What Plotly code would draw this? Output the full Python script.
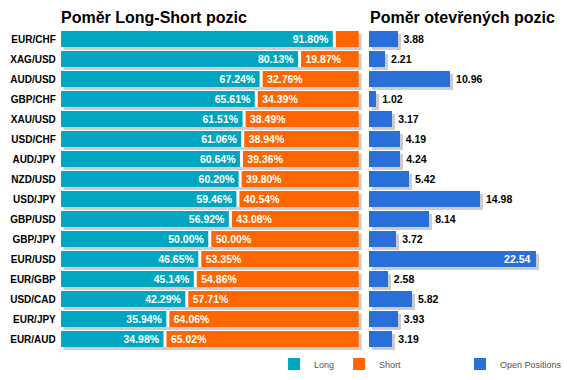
import plotly.graph_objects as go

pairs = ["EUR/CHF", "XAG/USD", "AUD/USD", "GBP/CHF", "XAU/USD", "USD/CHF", "AUD/JPY", "NZD/USD",
         "USD/JPY", "GBP/USD", "GBP/JPY", "EUR/USD", "EUR/GBP", "USD/CAD", "EUR/JPY", "EUR/AUD"]
long_pct = [91.80, 80.13, 67.24, 65.61, 61.51, 61.06, 60.64, 60.20,
            59.46, 56.92, 50.00, 46.65, 45.14, 42.29, 35.94, 34.98]
short_pct = [8.20, 19.87, 32.76, 34.39, 38.49, 38.94, 39.36, 39.80,
             40.54, 43.08, 50.00, 53.35, 54.86, 57.71, 64.06, 65.02]
open_pos = [3.88, 2.21, 10.96, 1.02, 3.17, 4.19, 4.24, 5.42,
            14.98, 8.14, 3.72, 22.54, 2.58, 5.82, 3.93, 3.19]

TEAL = "#00A6BF"
ORANGE = "#FF6600"
BLUE = "#2870D8"
SHADOW = "#CCCCCC"
FONT = "Liberation Sans, Arial, sans-serif"
NB = "\u00a0"

W, H = 567, 380


def px_x(a, b):
    return [a / W, b / W]


def px_y(top, bottom):
    return [1 - bottom / H, 1 - top / H]


long_text = [f"{v:.2f}%{NB}" for v in long_pct]
short_text = [f"{NB}{v:.2f}%" if v >= 10 else "" for v in short_pct]
max_open = max(open_pos)
open_pos_txt = ["inside" if v > 0.85 * max_open else "outside" for v in open_pos]
open_text = [f"{v:.2f}{NB}" if p == "inside" else f"{NB}{v:.2f}" for v, p in zip(open_pos, open_pos_txt)]
open_font_col = ["white" if p == "inside" else "black" for p in open_pos_txt]

bar_font = dict(size=10.5, family=FONT, weight="bold")

fig = go.Figure()

# shadows (drawn first, on lower subplots)
fig.add_trace(go.Bar(y=pairs, x=long_pct, orientation="h", marker=dict(color=SHADOW, line=dict(width=0)),
                     xaxis="x", yaxis="y", showlegend=False, hoverinfo="skip"))
fig.add_trace(go.Bar(y=pairs, x=short_pct, orientation="h", marker=dict(color=SHADOW, line=dict(width=0)),
                     xaxis="x", yaxis="y", showlegend=False, hoverinfo="skip"))
fig.add_trace(go.Bar(y=pairs, x=open_pos, orientation="h", marker=dict(color=SHADOW, line=dict(width=0)),
                     xaxis="x2", yaxis="y2", showlegend=False, hoverinfo="skip"))

# main bars
fig.add_trace(go.Bar(y=pairs, x=long_pct, orientation="h", name="Long",
                     marker=dict(color=TEAL, line=dict(width=0)),
                     text=long_text, textposition="inside", insidetextanchor="end", constraintext="none",
                     textfont=dict(color="white", **bar_font),
                     xaxis="x3", yaxis="y3", legend="legend"))
fig.add_trace(go.Bar(y=pairs, x=short_pct, orientation="h", name="Short",
                     marker=dict(color=ORANGE, line=dict(width=0)),
                     text=short_text, textposition="inside", insidetextanchor="start", constraintext="none",
                     textfont=dict(color="white", **bar_font),
                     xaxis="x3", yaxis="y3", legend="legend"))
fig.add_trace(go.Bar(y=pairs, x=open_pos, orientation="h", name="Open Positions",
                     marker=dict(color=BLUE, line=dict(width=0)),
                     text=open_text, textposition=open_pos_txt, insidetextanchor="end", constraintext="none",
                     textfont=dict(color=open_font_col, **bar_font),
                     cliponaxis=False,
                     xaxis="x4", yaxis="y4", legend="legend2"))

# white separators between long and short segments
shapes = []
for i, v in enumerate(long_pct):
    shapes.append(dict(type="line", xref="x3", yref="y3", x0=v, x1=v, y0=i - 0.4, y1=i + 0.4,
                       line=dict(color="white", width=3), layer="above"))

ax_hidden = dict(showgrid=False, zeroline=False, showticklabels=False, showline=False, ticks="", fixedrange=True)
cat_common = dict(type="category", categoryorder="array", categoryarray=pairs,
                  range=[len(pairs) - 0.5, -0.5], showgrid=False, zeroline=False, showline=False,
                  ticks="", fixedrange=True)

left_range = [0, 100]
right_range = [0, 190 / 7.46]

legend_common = dict(orientation="h", y=1 - 364 / H, xanchor="left", yanchor="middle",
                     traceorder="normal", font=dict(size=9, color="#555555", family=FONT),
                     bgcolor="rgba(0,0,0,0)", itemclick=False, itemdoubleclick=False)

fig.update_layout(
    width=W, height=H, margin=dict(l=0, r=0, t=0, b=0), autosize=False,
    paper_bgcolor="white", plot_bgcolor="rgba(0,0,0,0)",
    barmode="stack", bargap=0.2, hovermode=False,
    font=dict(family=FONT),
    xaxis=dict(domain=px_x(64, 363), range=left_range, **ax_hidden),
    yaxis=dict(domain=px_y(32, 352), anchor="x", showticklabels=False, **cat_common),
    xaxis2=dict(domain=px_x(373, 563), range=right_range, anchor="y2", **ax_hidden),
    yaxis2=dict(domain=px_y(32, 352), anchor="x2", showticklabels=False, **cat_common),
    xaxis3=dict(domain=px_x(61, 360), range=left_range, anchor="y3", **ax_hidden),
    yaxis3=dict(domain=px_y(29, 349), anchor="x3", showticklabels=True, ticklabelstandoff=4,
                tickfont=dict(family=FONT, size=10, color="black", weight="bold"), **cat_common),
    xaxis4=dict(domain=px_x(370, 560), range=right_range, anchor="y4", **ax_hidden),
    yaxis4=dict(domain=px_y(29, 349), anchor="x4", showticklabels=False, **cat_common),
    legend=dict(x=275 / W, **legend_common),
    legend2=dict(x=462 / W, **legend_common),
    shapes=shapes,
    annotations=[
        dict(text="Poměr Long-Short pozic", xref="paper", yref="paper", x=59 / W, y=1 - 17 / H,
             xanchor="left", yanchor="middle", showarrow=False,
             font=dict(family=FONT, size=16, color="black", weight="bold")),
        dict(text="Poměr otevřených pozic", xref="paper", yref="paper", x=369 / W, y=1 - 17 / H,
             xanchor="left", yanchor="middle", showarrow=False,
             font=dict(family=FONT, size=16, color="black", weight="bold")),
    ],
)

fig.write_html("out.html", config={"displayModeBar": False, "staticPlot": True},
               post_script="document.body.style.margin='0px';document.body.style.overflow='hidden';")
